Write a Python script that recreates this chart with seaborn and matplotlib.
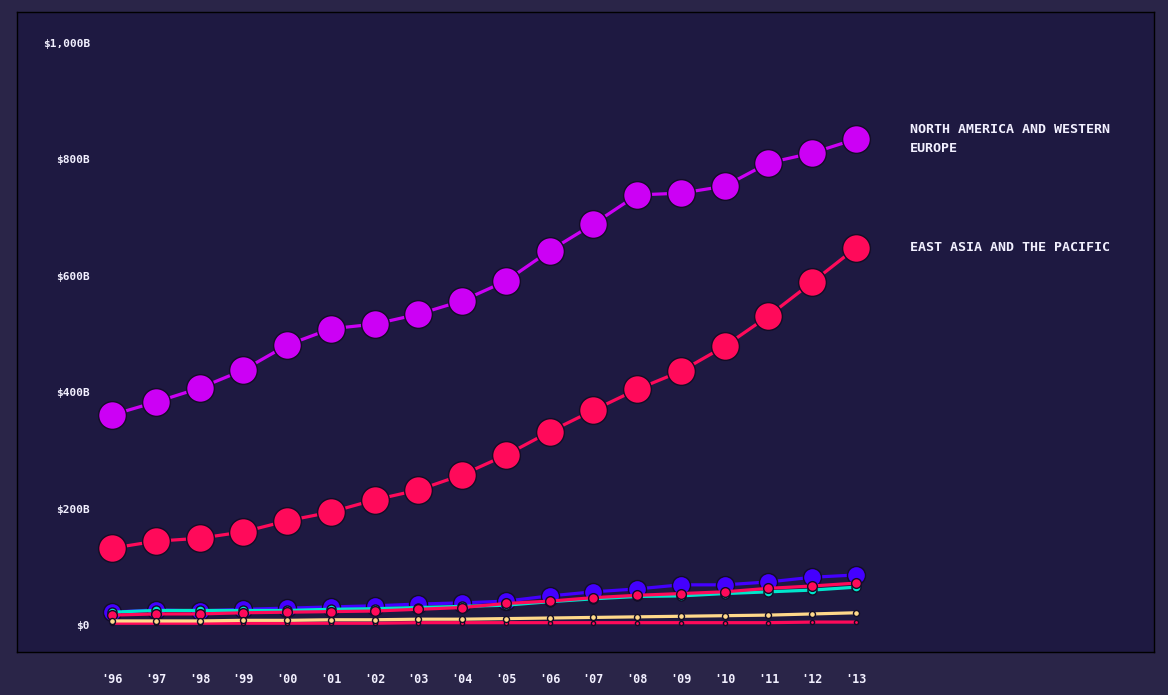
import matplotlib
matplotlib.use("Agg")
import matplotlib.pyplot as plt
import seaborn as sns
import pandas as pd

years = ["'96", "'97", "'98", "'99", "'00", "'01", "'02", "'03", "'04", "'05",
         "'06", "'07", "'08", "'09", "'10", "'11", "'12", "'13"]

north_america_western_europe = [361, 383, 407, 438, 481, 509, 517, 534, 557, 591,
                                643, 689, 739, 742, 754, 794, 811, 835]
east_asia_pacific = [132, 144, 149, 160, 179, 194, 215, 232, 258, 292,
                     332, 369, 405, 436, 479, 531, 589, 648]
eastern_europe_central_asia = [22, 26, 24, 27, 29, 31, 33, 36, 38, 41,
                               50, 57, 62, 69, 69, 74, 82, 86]
latin_america_caribbean = [22, 25, 25, 25, 25, 27, 28, 30, 32, 34,
                           40, 45, 49, 50, 54, 57, 60, 65]
middle_east_north_africa = [17, 19, 19, 21, 22, 23, 24, 27, 30, 37,
                            41, 47, 51, 54, 57, 63, 67, 72]
south_asia = [7, 7, 7, 8, 8, 9, 9, 10, 10, 11, 12, 13, 14, 15, 16, 17, 19, 21]
sub_saharan_africa = [3, 3, 3, 3, 3, 3, 3, 4, 4, 4, 4, 4, 4, 4, 4, 4, 5, 5]

y_ticks = [0, 200, 400, 600, 800, 1000]
y_tick_labels = ["$0", "$200B", "$400B", "$600B", "$800B", "$1,000B"]

series = [
    ("NORTH AMERICA AND WESTERN\nEUROPE", north_america_western_europe, "#cc00f5", 20, True),
    ("EAST ASIA AND THE PACIFIC", east_asia_pacific, "#ff0a5a", 20, True),
    ("Eastern Europe and Central Asia", eastern_europe_central_asia, "#4400ff", 13, False),
    ("Latin America and Caribbean", latin_america_caribbean, "#00e6cc", 6.5, False),
    ("Middle East and North Africa", middle_east_north_africa, "#ff0a5a", 7, False),
    ("Sub-Saharan Africa", sub_saharan_africa, "#ff0a5a", 3, False),
    ("South Asia", south_asia, "#ffd98a", 4.3, False),
]

outer_bg = "#2a2548"
panel_bg = "#1e1941"
text_col = "#f2f0ff"
font = "DejaVu Sans Mono"

sns.set_theme(style="dark")
plt.rcParams["font.family"] = [font, "DejaVu Sans"]

fig = plt.figure(figsize=(11.68, 6.95), dpi=100, facecolor=outer_bg)
ax = fig.add_axes([17 / 1168, 1 - 652 / 695, 1137 / 1168, 640 / 695])
ax.set_facecolor(panel_bg)

idx = list(range(len(years)))
for name, vals, color, ms, labelled in series:
    df = pd.DataFrame({"x": idx, "y": vals})
    sns.lineplot(data=df, x="x", y="y", ax=ax, color=color, linewidth=2.3,
                 marker="o", markersize=ms, markeredgecolor="#120d26",
                 markeredgewidth=1.0, legend=False)
    if labelled:
        ax.text(idx[-1] + 1.23, vals[-1], name, color=text_col, fontsize=9.6,
                fontweight="bold", va="center", ha="left", linespacing=1.65,
                family=[font])

ax.set_xlim(-2.171, 23.81)
ax.set_ylim(-46.4, 1053.3)
ax.set_xticks(idx)
ax.set_xticklabels(years)
ax.set_yticks(y_ticks)
ax.set_yticklabels(y_tick_labels)
ax.set_xlabel("")
ax.set_ylabel("")
ax.grid(False)
ax.tick_params(axis="x", length=0, pad=15, labelsize=8.5, colors=text_col)
ax.tick_params(axis="y", length=0, pad=-52.5, labelsize=8, colors=text_col)
for lab in ax.get_yticklabels():
    lab.set_horizontalalignment("right")
    lab.set_fontweight("bold")
for lab in ax.get_xticklabels():
    lab.set_fontweight("bold")
for sp in ax.spines.values():
    sp.set_visible(True)
    sp.set_color("#000000")
    sp.set_linewidth(1.0)

fig.savefig("out.png", dpi=100, facecolor=outer_bg)
